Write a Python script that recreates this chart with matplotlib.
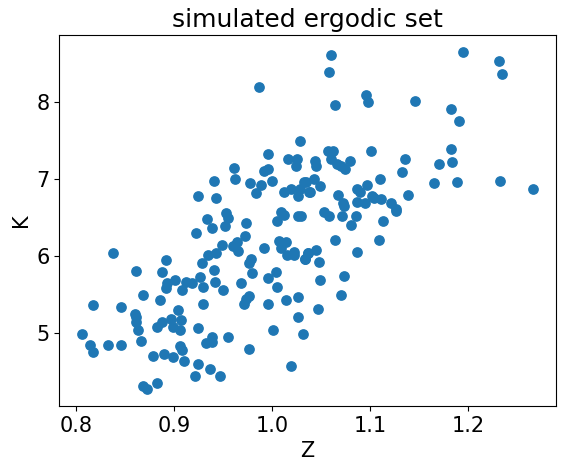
import matplotlib
matplotlib.use("Agg")
import matplotlib.pyplot as plt

Z = [
 0.987,1.028,0.996,1.016,1.025,1.024,0.961,0.992,0.996,0.941,0.962,0.977,0.989,1.000,0.984,1.012,1.019,1.028,1.026,1.035,1.039,0.924,0.943,
 1.060,1.058,1.195,1.231,1.234,1.096,1.098,1.064,1.146,1.182,1.191,
 1.057,1.062,1.101,1.182,1.044,1.045,1.060,1.066,1.070,1.074,1.079,1.136,1.132,1.170,1.183,1.033,1.043,1.049,1.038,1.110,1.097,1.087,1.090,1.067,1.102,1.104,1.111,1.087,1.095,1.121,1.126,1.072,1.073,1.139,1.165,1.189,1.232,1.266,
 1.053,1.058,1.071,1.086,1.113,1.126,1.080,1.064,1.109,1.045,1.037,1.034,1.048,1.087,1.049,1.073,1.070,1.047,
 0.838,0.817,0.806,0.814,0.817,0.833,0.846,0.846,0.861,0.868,0.860,0.861,0.861,0.863,0.866,0.868,0.873,0.883,0.879,0.890,0.899,0.910,0.906,0.908,0.883,0.888,0.897,0.899,0.907,0.906,0.904,0.886,0.892,0.888,0.893,0.892,0.901,0.908,0.912,0.918,0.922,0.934,0.939,0.953,0.955,0.952,0.973,0.972,0.949,0.935,0.943,0.929,0.941,0.927,0.930,0.942,0.950,0.930,0.924,0.933,0.939,0.939,0.955,0.924,0.937,0.947,0.921,0.976,0.960,0.964,0.965,0.968,0.971,0.973,0.976,0.980,0.976,0.979,0.992,1.004,1.005,0.996,0.996,1.001,1.019,1.014,1.026,1.026,1.032,1.007,1.014,1.009,1.015,1.022,1.022,1.034,1.037,1.005,1.009,1.012,1.026,1.029,
]
K = [
 8.19,7.49,7.32,7.25,7.26,7.16,7.14,7.10,7.12,6.97,6.99,6.95,6.92,6.97,6.82,6.83,6.86,6.87,6.77,6.96,6.83,6.77,6.75,
 8.60,8.38,8.64,8.52,8.36,8.08,8.00,7.95,8.01,7.90,7.75,
 7.36,7.36,7.36,7.39,7.23,7.16,7.26,7.19,7.17,7.12,7.23,7.26,7.09,7.19,7.21,6.96,6.99,6.91,6.83,7.00,6.92,6.86,6.83,6.79,6.77,6.75,6.74,6.70,6.69,6.69,6.61,6.69,6.64,6.79,6.94,6.96,6.97,6.86,
 6.57,6.52,6.51,6.52,6.45,6.58,6.40,6.21,6.21,6.08,6.04,5.96,5.92,6.05,5.69,5.74,5.49,5.31,
 6.04,5.36,4.99,4.84,4.75,4.84,4.84,5.34,5.80,5.49,5.25,5.21,5.14,5.04,4.90,4.31,4.27,4.35,4.70,4.73,4.68,4.64,4.83,4.78,5.08,5.14,5.18,5.08,5.17,5.04,5.29,5.43,5.94,5.79,5.65,5.58,5.69,5.56,5.66,5.64,6.29,6.48,6.36,6.56,6.49,6.39,6.43,6.25,6.14,6.01,6.03,5.90,5.82,5.73,5.60,5.66,5.56,5.38,5.06,4.87,4.94,4.88,4.95,4.60,4.53,4.44,4.44,4.79,6.13,6.18,6.06,5.64,5.38,5.44,5.48,5.77,5.90,5.96,6.10,5.79,5.60,5.71,5.38,5.03,4.57,5.43,5.47,5.21,4.99,6.19,6.18,6.10,6.01,6.05,6.01,5.96,6.03,6.45,6.57,6.53,6.52,6.51,
]

plt.rcParams['font.size'] = 15
fig, ax = plt.subplots(figsize=(5.64, 4.72), dpi=100)
ax.scatter(Z, K, s=45, color='#1f77b4')
ax.set_title("simulated ergodic set", fontsize=18)
ax.set_xlabel("Z")
ax.set_ylabel("K")
ax.set_yticks([5, 6, 7, 8])
fig.subplots_adjust(left=0.105, right=0.985, top=0.925, bottom=0.14)
fig.savefig("out.png", dpi=100)
